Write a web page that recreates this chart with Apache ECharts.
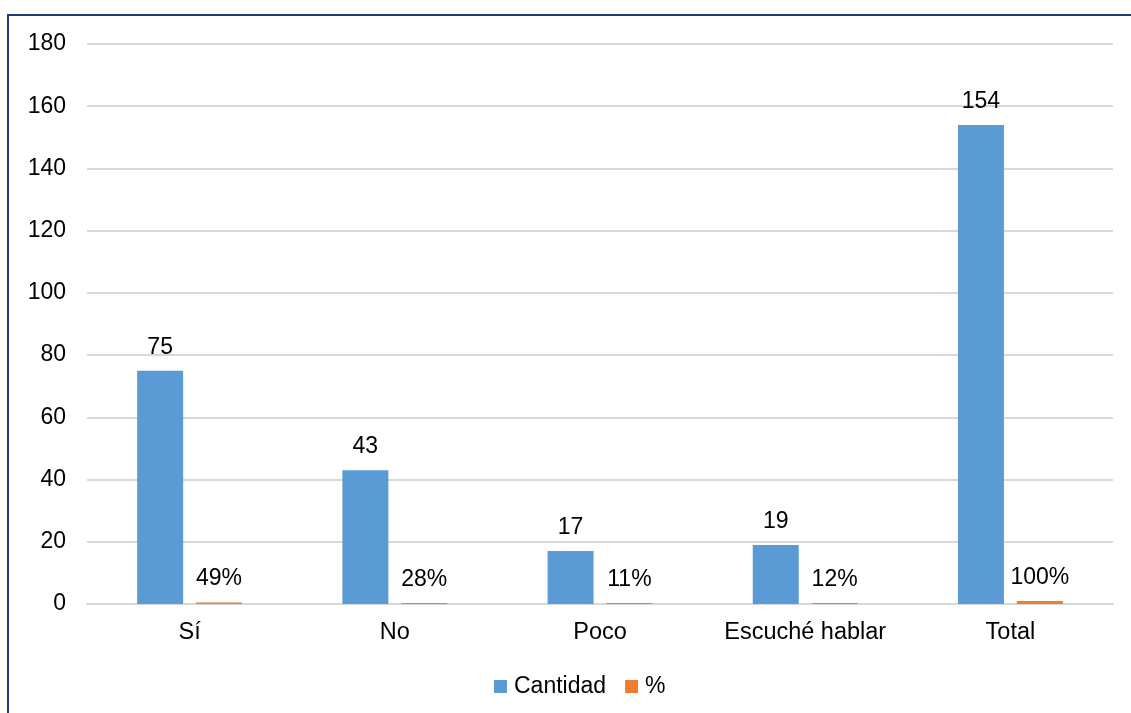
<!DOCTYPE html>
<html>
<head>
<meta charset="utf-8">
<script src="https://cdn.jsdelivr.net/npm/echarts@6/dist/echarts.min.js"></script>
<style>
html,body{margin:0;padding:0;background:#fff;overflow:hidden;}
.frame{position:absolute;left:7px;top:14px;width:1200px;height:800px;border:2px solid #1f3b7a;box-sizing:border-box;}
#chart{position:absolute;left:0;top:0;width:1131px;height:713px;}
</style>
</head>
<body>
<div class="frame"></div>
<div id="chart"></div>
<script>
// datos del gráfico
const categorias = ['Sí', 'No', 'Poco', 'Escuché hablar', 'Total'];
const cantidad = [75, 43, 17, 19, 154];
const porcentaje = [0.49, 0.28, 0.11, 0.12, 1.00];
const yTicks = [0, 20, 40, 60, 80, 100, 120, 140, 160, 180];

const fuente = 'Liberation Sans, Arial, sans-serif';
let mychart = echarts.init(document.getElementById('chart'));
mychart.setOption({
    animation: false,
    textStyle: { fontFamily: fuente },
    grid: { left: 87, right: 18, top: 44, bottom: 109 },
    legend: {
        bottom: 10,
        left: 489,
        itemWidth: 13,
        itemHeight: 13,
        itemGap: 19,
        icon: 'rect',
        textStyle: { fontSize: 23, color: '#000', fontFamily: fuente, padding: [0, 0, 0, 2] },
        data: ['Cantidad', '%']
    },
    xAxis: {
        type: 'category',
        data: categorias,
        axisTick: { show: false },
        axisLine: { lineStyle: { color: '#d9d9d9', width: 2 } },
        axisLabel: { fontSize: 23.5, color: '#000', margin: 17, interval: 0 }
    },
    yAxis: {
        type: 'value',
        min: yTicks[0],
        max: yTicks[yTicks.length - 1],
        interval: 20,
        axisLine: { show: false },
        axisTick: { show: false },
        axisLabel: { fontSize: 23, color: '#000', margin: 21 },
        splitLine: { lineStyle: { color: '#d9d9d9', width: 2 } }
    },
    series: [
        {
            name: 'Cantidad',
            type: 'bar',
            data: cantidad,
            barWidth: 46,
            barGap: '28%',
            itemStyle: { color: '#5b9bd5' },
            label: { show: true, position: 'top', distance: 12, fontSize: 23, color: '#000' }
        },
        {
            name: '%',
            type: 'bar',
            data: porcentaje,
            barWidth: 46,
            barMinHeight: 1,
            itemStyle: { color: '#ed7d31' },
            label: {
                show: true, position: 'top', distance: 12, fontSize: 23, color: '#000',
                formatter: function (p) { return Math.round(p.value * 100) + '%'; }
            }
        }
    ]
});
</script>
</body>
</html>
